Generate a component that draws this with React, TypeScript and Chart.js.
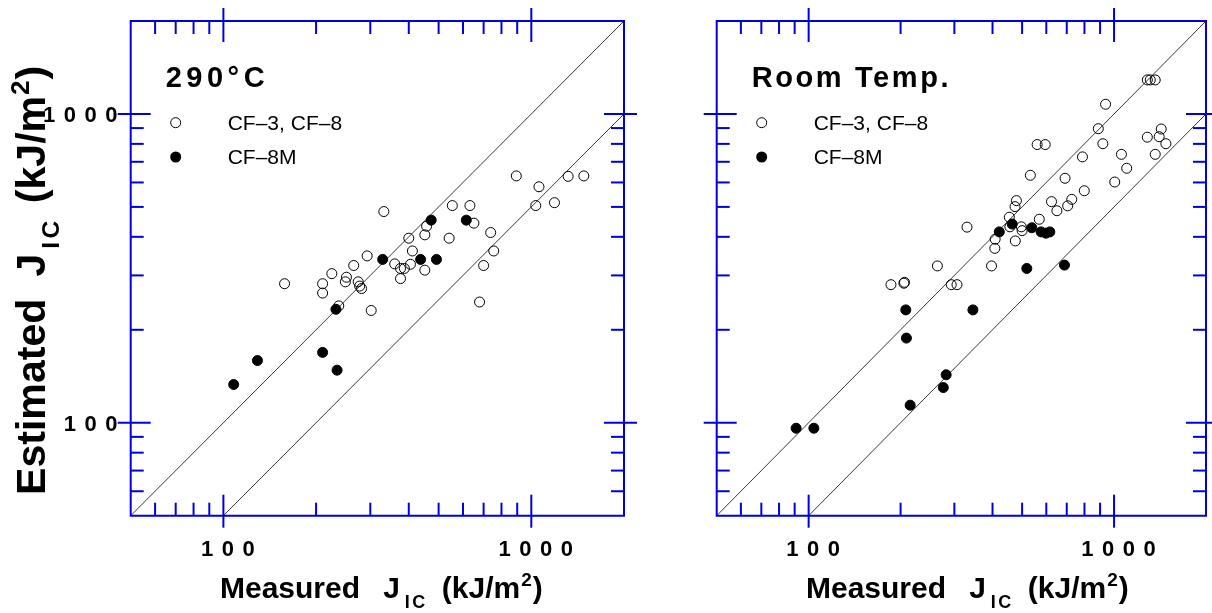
import React, { useEffect, useRef } from "react";
import { Chart, registerables } from "chart.js";

Chart.register(...registerables);

// ---------- axis definition ----------
const axisMin = 50;
const axisMax = 2000;
const majorTicks = [100, 1000];
const majorTickLabels = ["1 0 0", "1 0 0 0"];
const minorTicks = [60, 70, 80, 90, 200, 300, 400, 500, 600, 700, 800, 900];

// ---------- 290°C panel ----------
const hotOpenX = [158, 210, 210, 225, 251, 249, 265, 293, 274, 277, 281, 237, 302, 332, 400, 411, 360, 376, 387, 376, 405, 451, 457, 451, 541, 554, 632, 651, 738, 755, 700, 679, 894, 1059, 1034, 1189, 1317, 1481];
const hotOpenY = [282, 282, 263, 304, 296, 286, 323, 347, 286, 277, 272, 239, 231, 483, 396, 360, 327, 316, 316, 293, 326, 406, 433, 312, 396, 505, 505, 443, 413, 360, 323, 246, 630, 581, 505, 516, 628, 630];
const hotFillX = [108, 129, 210, 234, 232, 329, 437, 492, 473, 615];
const hotFillY = [133, 159, 169, 148, 233, 338, 338, 338, 453, 453];

// ---------- Room temperature panel ----------
const rtOpenX = [186, 206, 205, 264, 293, 306, 397, 407, 408, 330, 475, 456, 497, 500, 454, 569, 479, 474, 624, 650, 705, 727, 532, 691, 799, 560, 595, 788, 888, 919, 938, 1005, 1057, 1100, 1285, 1364, 1427, 1405, 1478, 1285, 1314, 1364];
const rtOpenY = [280, 285, 283, 322, 280, 280, 322, 367, 393, 430, 388, 431, 431, 419, 463, 456, 524, 501, 520, 486, 504, 529, 633, 619, 564, 796, 796, 726, 896, 801, 1075, 602, 740, 667, 841, 740, 894, 844, 801, 1289, 1289, 1289];
const rtFillX = [91, 104, 208, 209, 345, 282, 276, 215, 518, 688, 421, 464, 538, 577, 616, 598];
const rtFillY = [96, 96, 232, 188, 232, 143, 130, 114, 316, 324, 415, 440, 428, 415, 415, 411];

// reference lines: Jest = Jmeas and Jest = Jmeas / 2
const lineEqualX = [50, 2000];
const lineEqualY = [50, 2000];
const lineHalfX = [100, 2000];
const lineHalfY = [50, 1000];

const legendLabels = ["CF–3, CF–8", "CF–8M"];
const panelTitles = ["290°C", "Room Temp."];
const panelTitleSpacing = [4.5, 2.6];

const BLUE = "rgb(0,0,222)";
const FONT = "'Liberation Sans', Arial, Helvetica, sans-serif";
const H = 613;

// rich text piece: text, font size, baseline shift, letter spacing, gap before
type Part = { t: string; size: number; dy: number; ls?: number; gap?: number };
const titleParts = (first: string, k: number): Part[] => [
  { t: first, size: 30 * k, dy: 0 },
  { t: "J", size: 30 * k, dy: 0, gap: 22 * (k > 1 ? 1 : 1.05) },
  { t: "IC", size: 18 * k, dy: 10 * k, ls: 2.5 * k, gap: 5 },
  { t: "(kJ/m", size: 30 * k, dy: 0, gap: 14 },
  { t: "2", size: 19 * k, dy: -12 * k, gap: 1 },
  { t: ")", size: 30 * k, dy: 0, gap: 1 },
];

function drawRich(ctx: CanvasRenderingContext2D, parts: Part[], startX: number, baseline: number) {
  let x = startX;
  for (const p of parts) {
    x += p.gap || 0;
    ctx.font = `bold ${p.size}px ${FONT}`;
    (ctx as any).letterSpacing = `${p.ls || 0}px`;
    ctx.fillText(p.t, x, baseline + p.dy);
    x += ctx.measureText(p.t).width;
  }
  (ctx as any).letterSpacing = "0px";
}

function makeFramePlugin(panel: number, showYLabels: boolean) {
  return {
    id: "frame",
    afterDatasetsDraw(chart: any) {
      const { ctx, chartArea: a, scales } = chart;
      const xs = scales.x;
      const ys = scales.y;
      ctx.save();
      ctx.strokeStyle = BLUE;
      ctx.lineWidth = 2;
      ctx.beginPath();
      ctx.rect(a.left, a.top, a.right - a.left, a.bottom - a.top);
      ctx.stroke();
      const seg = (x1: number, y1: number, x2: number, y2: number) => {
        ctx.beginPath();
        ctx.moveTo(x1, y1);
        ctx.lineTo(x2, y2);
        ctx.stroke();
      };
      for (const v of minorTicks) {
        const px = xs.getPixelForValue(v);
        seg(px, a.bottom, px, a.bottom - 13);
        seg(px, a.top, px, a.top + 13);
        const py = ys.getPixelForValue(v);
        seg(a.left, py, a.left + 13, py);
        seg(a.right, py, a.right - 13, py);
      }
      for (const v of majorTicks) {
        const px = xs.getPixelForValue(v);
        seg(px, a.bottom + 12, px, a.bottom - 21);
        seg(px, a.top - 13, px, a.top + 21);
        const py = ys.getPixelForValue(v);
        seg(a.left - 13, py, a.left + 20, py);
        seg(a.right + 13, py, a.right - 20, py);
      }
      ctx.fillStyle = "#000";
      ctx.textBaseline = "alphabetic";
      // axis titles (drawn first so tick labels sit on top)
      ctx.textAlign = "left";
      drawRich(ctx, titleParts("Measured", 1), a.left + 89.3, 598);
      if (showYLabels) {
        ctx.save();
        ctx.translate(45, 495);
        ctx.rotate(-Math.PI / 2);
        drawRich(ctx, titleParts("Estimated", 1.37), 0, 0);
        ctx.restore();
      }
      // tick labels
      ctx.font = `bold 22px ${FONT}`;
      (ctx as any).letterSpacing = "1.2px";
      majorTicks.forEach((v, i) => {
        const px = xs.getPixelForValue(v);
        ctx.textAlign = "center";
        ctx.fillText(majorTickLabels[i], px + 5, 556);
        if (showYLabels) {
          const py = ys.getPixelForValue(v);
          ctx.textAlign = "right";
          ctx.fillText(majorTickLabels[i], a.left - 12, py + 8);
        }
      });
      (ctx as any).letterSpacing = "0px";
      ctx.textAlign = "left";
      // panel title
      ctx.font = `bold 29px ${FONT}`;
      (ctx as any).letterSpacing = `${panelTitleSpacing[panel]}px`;
      ctx.fillText(panelTitles[panel], a.left + 35, 87);
      (ctx as any).letterSpacing = "0px";
      // legend
      const lx = a.left + 45;
      ctx.strokeStyle = "#000";
      ctx.lineWidth = 1;
      ctx.beginPath();
      ctx.arc(lx, 122.7, 5, 0, Math.PI * 2);
      ctx.stroke();
      ctx.beginPath();
      ctx.arc(lx, 157, 5.5, 0, Math.PI * 2);
      ctx.fillStyle = "#000";
      ctx.fill();
      ctx.font = `21px ${FONT}`;
      ctx.fillText(legendLabels[0], a.left + 97, 129.5);
      ctx.fillText(legendLabels[1], a.left + 97, 164);
      ctx.restore();
    },
  };
}

function toPts(xs: number[], ys: number[]) {
  return xs.map((x, i) => ({ x, y: ys[i] }));
}

function Panel(props: {
  panel: number;
  left: number;
  width: number;
  areaLeft: number;
  areaRight: number;
  openX: number[];
  openY: number[];
  fillX: number[];
  fillY: number[];
  showY: boolean;
}) {
  const ref = useRef<HTMLCanvasElement>(null);
  useEffect(() => {
    const chart = new Chart(ref.current!, {
      type: "scatter",
      data: {
        datasets: [
          {
            label: legendLabels[0],
            data: toPts(props.openX, props.openY),
            backgroundColor: "rgba(0,0,0,0)",
            borderColor: "#000",
            borderWidth: 1,
            pointRadius: 5,
            order: 0,
          },
          {
            label: legendLabels[1],
            data: toPts(props.fillX, props.fillY),
            backgroundColor: "#000",
            borderColor: "#000",
            borderWidth: 1,
            pointRadius: 5,
            order: 0,
          },
          {
            type: "line",
            label: "1:1",
            data: toPts(lineEqualX, lineEqualY),
            borderColor: "#222",
            borderWidth: 0.9,
            pointRadius: 0,
            showLine: true,
            fill: false,
            order: 2,
          } as any,
          {
            type: "line",
            label: "1:2",
            data: toPts(lineHalfX, lineHalfY),
            borderColor: "#222",
            borderWidth: 0.9,
            pointRadius: 0,
            showLine: true,
            fill: false,
            order: 2,
          } as any,
        ],
      },
      options: {
        animation: false,
        responsive: false,
        events: [],
        layout: {
          padding: {
            left: props.areaLeft,
            right: props.width - props.areaRight,
            top: 21,
            bottom: H - 515.7,
          },
        },
        plugins: { legend: { display: false }, tooltip: { enabled: false }, title: { display: false } },
        scales: {
          x: { type: "logarithmic", min: axisMin, max: axisMax, display: false },
          y: { type: "logarithmic", min: axisMin, max: axisMax, display: false },
        },
      },
      plugins: [makeFramePlugin(props.panel, props.showY)],
    });
    return () => chart.destroy();
  }, []);
  return (
    <canvas
      ref={ref}
      width={props.width}
      height={H}
      style={{ position: "absolute", left: props.left, top: 0, width: props.width, height: H }}
    />
  );
}

export default function App() {
  return (
    <div style={{ position: "fixed", left: 0, top: 0, width: 1212, height: H, background: "#fff", overflow: "hidden" }}>
      <Panel
        panel={0}
        left={0}
        width={670}
        areaLeft={130.7}
        areaRight={624}
        openX={hotOpenX}
        openY={hotOpenY}
        fillX={hotFillX}
        fillY={hotFillY}
        showY={true}
      />
      <Panel
        panel={1}
        left={670}
        width={542}
        areaLeft={716.7 - 670}
        areaRight={1210 - 670}
        openX={rtOpenX}
        openY={rtOpenY}
        fillX={rtFillX}
        fillY={rtFillY}
        showY={false}
      />
    </div>
  );
}
